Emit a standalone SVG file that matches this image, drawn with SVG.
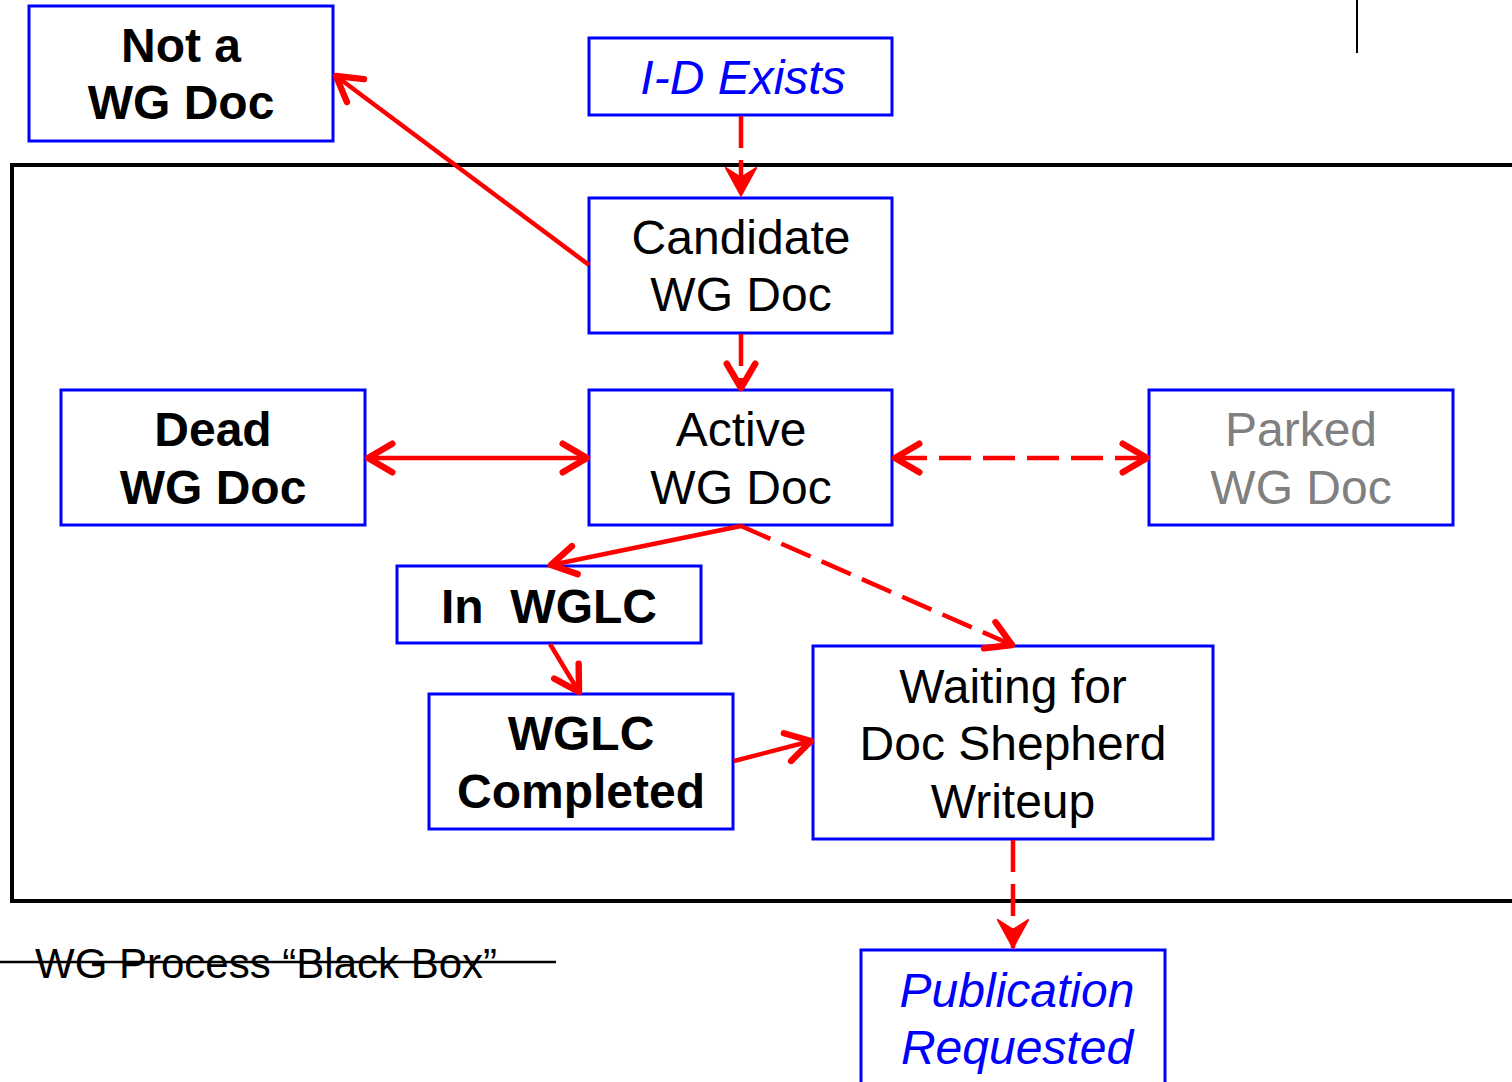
<svg xmlns="http://www.w3.org/2000/svg" width="1512" height="1082" viewBox="0 0 1512 1082">
<defs>
<style>
.box{fill:#fff;stroke:#0000ff;stroke-width:3}
.t{font-family:"Liberation Sans",Arial,sans-serif;font-size:48px;text-anchor:middle;fill:#000}
.b{font-weight:bold}
.i{font-style:italic;fill:#0000ff}
.g{fill:#808080}
.c{fill:none;stroke:#ff0000;stroke-width:4.5}
.d{stroke-dasharray:32 12}
</style>
<marker id="open" markerUnits="userSpaceOnUse" markerWidth="40" markerHeight="40" viewBox="-24 -14 28 28" refX="0" refY="0" orient="auto-start-reverse">
<path d="M-17,-10 L0,0 L-17,10" fill="none" stroke="#ff0000" stroke-width="4.5" stroke-linecap="round" stroke-linejoin="round"/>
</marker>
<marker id="stealth" markerUnits="userSpaceOnUse" markerWidth="40" markerHeight="40" viewBox="-24 -14 28 28" refX="0" refY="0" orient="auto">
<path d="M-20,-11 L0,0 L-20,11 L-13,0 Z" fill="#ff0000" stroke="#ff0000" stroke-width="1"/>
</marker>
</defs>

<rect x="12" y="165" width="1512" height="736" fill="none" stroke="#000" stroke-width="4"/>
<line x1="1357" y1="0" x2="1357" y2="53" stroke="#000" stroke-width="2"/>

<g id="label-blackbox">
<text x="35" y="978" font-family="Liberation Sans,Arial,sans-serif" font-size="42" fill="#000">WG Process “Black Box”</text>
<line x1="0" y1="962" x2="556" y2="962" stroke="#000" stroke-width="2.5"/>
</g>

<g id="not-wg-doc">
<rect class="box" x="29" y="6" width="304" height="135"/>
<text class="t b" x="181" y="62">Not a</text>
<text class="t b" x="181" y="119">WG Doc</text>
</g>
<g id="id-exists">
<rect class="box" x="589" y="38" width="303" height="77"/>
<text class="t i" x="743" y="94">I-D Exists</text>
</g>
<g id="candidate">
<rect class="box" x="589" y="198" width="303" height="135"/>
<text class="t" x="741" y="254">Candidate</text>
<text class="t" x="741" y="311">WG Doc</text>
</g>
<g id="dead">
<rect class="box" x="61" y="390" width="304" height="135"/>
<text class="t b" x="213" y="446">Dead</text>
<text class="t b" x="213" y="504">WG Doc</text>
</g>
<g id="active">
<rect class="box" x="589" y="390" width="303" height="135"/>
<text class="t" x="741" y="446">Active</text>
<text class="t" x="741" y="504">WG Doc</text>
</g>
<g id="parked">
<rect class="box" x="1149" y="390" width="304" height="135"/>
<text class="t g" x="1301" y="446">Parked</text>
<text class="t g" x="1301" y="504">WG Doc</text>
</g>
<g id="in-wglc">
<rect class="box" x="397" y="566" width="304" height="77"/>
<text class="t b" x="549" y="623" xml:space="preserve">In  WGLC</text>
</g>
<g id="wglc-completed">
<rect class="box" x="429" y="694" width="304" height="135"/>
<text class="t b" x="581" y="750">WGLC</text>
<text class="t b" x="581" y="808">Completed</text>
</g>
<g id="waiting">
<rect class="box" x="813" y="646" width="400" height="193"/>
<text class="t" x="1013" y="703">Waiting for</text>
<text class="t" x="1013" y="760">Doc Shepherd</text>
<text class="t" x="1013" y="818">Writeup</text>
</g>
<g id="publication">
<rect class="box" x="861" y="950" width="304" height="140"/>
<text class="t i" x="1017" y="1007">Publication</text>
<text class="t i" x="1017" y="1064">Requested</text>
</g>

<g id="connectors">
<line class="c" x1="589" y1="265" x2="336" y2="76" marker-end="url(#open)"/>
<line class="c d" x1="741" y1="116" x2="741" y2="196" marker-end="url(#stealth)"/>
<line class="c d" x1="741" y1="334" x2="741" y2="388" marker-end="url(#open)"/>
<line class="c" x1="368" y1="458" x2="587" y2="458" marker-start="url(#open)" marker-end="url(#open)"/>
<line class="c d" x1="895" y1="458" x2="1147" y2="458" marker-start="url(#open)" marker-end="url(#open)"/>
<line class="c" x1="741" y1="526" x2="551" y2="565" marker-end="url(#open)"/>
<line class="c d" x1="741" y1="526" x2="1012" y2="645" marker-end="url(#open)"/>
<line class="c" x1="550" y1="644" x2="579" y2="692" marker-end="url(#open)"/>
<line class="c" x1="734" y1="761" x2="811" y2="741" marker-end="url(#open)"/>
<line class="c d" x1="1013" y1="840" x2="1013" y2="948" marker-end="url(#stealth)"/>
</g>
</svg>
